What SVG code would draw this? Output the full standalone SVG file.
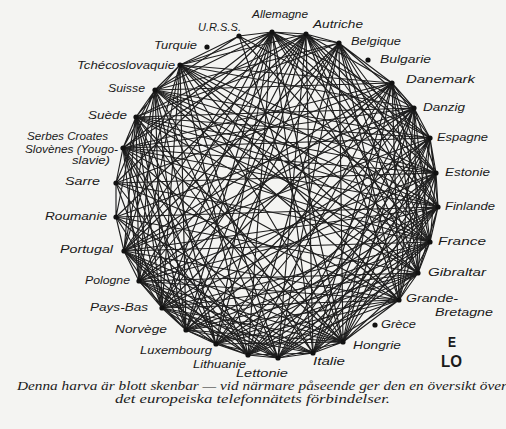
<svg xmlns="http://www.w3.org/2000/svg" width="506" height="429" viewBox="0 0 506 429">
<style>
.bg{fill:#f4f4f2}
.e{fill:none;stroke:#1e1e1e;stroke-width:1.15;stroke-linecap:round}
.d{fill:#111}
.l{font-family:"Liberation Sans",Arial,sans-serif;font-style:italic;font-size:10.5px;fill:#1a1a1a}
.c{font-family:"Liberation Serif","Times New Roman",serif;font-style:italic;font-size:11.5px;fill:#1a1a1a}
.m{font-family:"Liberation Sans",Arial,sans-serif;font-weight:bold;fill:#1a1a1a}
</style>
<rect class="bg" x="0" y="0" width="506" height="429"/>
<g id="connectors" class="e">
<path d="M272 32L306 34M272 32L339 43M272 32L414 108M272 32L430 138M272 32L438 207M272 32L430 242M272 32L418 273M272 32L343 342M272 32L313 353M272 32L248 355M272 32L216 344M272 32L162 308M272 32L139 281M272 32L124 251M272 32L116 183M272 32L123 148M272 32L155 90M272 32L180 65"/>
<path d="M306 34L339 43M306 34L392 83M306 34L430 138M306 34L436 173M306 34L430 242M306 34L418 273M306 34L399 300M306 34L313 353M306 34L278 358M306 34L216 344M306 34L186 330M306 34L139 281M306 34L124 251M306 34L116 217M306 34L123 148M306 34L136 117M306 34L180 65"/>
<path d="M339 43L392 83M339 43L414 108M339 43L436 173M339 43L438 207M339 43L418 273M339 43L399 300M339 43L343 342M339 43L278 358M339 43L248 355M339 43L186 330M339 43L162 308M339 43L124 251M339 43L136 117M339 43L155 90"/>
<path d="M392 83L414 108M392 83L430 138M392 83L438 207M392 83L430 242M392 83L399 300M392 83L343 342M392 83L313 353M392 83L248 355M392 83L216 344M392 83L162 308M392 83L139 281M392 83L116 183M392 83L123 148M392 83L155 90M392 83L180 65"/>
<path d="M414 108L430 138M414 108L436 173M414 108L430 242M414 108L418 273M414 108L343 342M414 108L313 353M414 108L278 358M414 108L216 344M414 108L186 330M414 108L139 281M414 108L124 251M414 108L116 217M414 108L123 148M414 108L136 117M414 108L180 65"/>
<path d="M430 138L436 173M430 138L438 207M430 138L418 273M430 138L399 300M430 138L313 353M430 138L278 358M430 138L248 355M430 138L186 330M430 138L162 308M430 138L124 251M430 138L123 148M430 138L136 117M430 138L155 90"/>
<path d="M436 173L438 207M436 173L430 242M436 173L399 300M436 173L343 342M436 173L278 358M436 173L248 355M436 173L216 344M436 173L162 308M436 173L139 281M436 173L116 183M436 173L136 117M436 173L155 90M436 173L180 65"/>
<path d="M438 207L430 242M438 207L418 273M438 207L343 342M438 207L313 353M438 207L248 355M438 207L216 344M438 207L186 330M438 207L139 281M438 207L124 251M438 207L116 217M438 207L123 148M438 207L155 90M438 207L180 65"/>
<path d="M430 242L418 273M430 242L399 300M430 242L313 353M430 242L278 358M430 242L216 344M430 242L186 330M430 242L162 308M430 242L124 251M430 242L116 183M430 242L123 148M430 242L136 117M430 242L180 65"/>
<path d="M418 273L399 300M418 273L343 342M418 273L278 358M418 273L248 355M418 273L186 330M418 273L162 308M418 273L139 281M418 273L116 217M418 273L136 117M418 273L155 90"/>
<path d="M399 300L343 342M399 300L313 353M399 300L248 355M399 300L216 344M399 300L162 308M399 300L139 281M399 300L124 251M399 300L116 183M399 300L123 148M399 300L155 90M399 300L180 65"/>
<path d="M343 342L313 353M343 342L278 358M343 342L216 344M343 342L186 330M343 342L139 281M343 342L124 251M343 342L116 217M343 342L123 148M343 342L136 117M343 342L180 65"/>
<path d="M313 353L278 358M313 353L248 355M313 353L186 330M313 353L162 308M313 353L124 251M313 353L136 117M313 353L155 90"/>
<path d="M278 358L248 355M278 358L216 344M278 358L162 308M278 358L139 281M278 358L116 217M278 358L123 148M278 358L155 90M278 358L180 65"/>
<path d="M248 355L216 344M248 355L186 330M248 355L139 281M248 355L124 251M248 355L116 183M248 355L123 148M248 355L136 117M248 355L180 65"/>
<path d="M216 344L186 330M216 344L162 308M216 344L124 251M216 344L123 148M216 344L136 117M216 344L155 90"/>
<path d="M186 330L162 308M186 330L139 281M186 330L116 217M186 330L136 117M186 330L155 90M186 330L180 65"/>
<path d="M162 308L139 281M162 308L124 251M162 308L116 183M162 308L123 148M162 308L155 90M162 308L180 65"/>
<path d="M139 281L124 251M139 281L123 148M139 281L136 117M139 281L180 65"/>
<path d="M124 251L116 217M124 251L136 117M124 251L155 90"/>
<path d="M116 217L116 183M116 217L136 117M116 183L123 148M116 183L155 90M123 148L136 117M123 148L155 90M136 117L155 90M136 117L180 65M155 90L180 65"/>
<path d="M272 32L436 173M272 32L186 330M306 34L438 207M306 34L162 308M339 43L430 242M339 43L139 281M392 83L418 273M392 83L124 251M414 108L399 300M430 138L343 342M436 173L313 353M436 173L123 148M438 207L278 358M438 207L136 117M430 242L248 355M430 242L155 90M418 273L216 344M418 273L180 65M399 300L186 330M343 342L162 308M313 353L139 281M278 358L124 251M186 330L123 148M162 308L136 117M139 281L155 90M124 251L180 65"/>
<path d="M239 36L272 32M239 36L180 65M239 36L155 90M239 36L430 242M239 36L343 342M239 36L430 138"/>
</g>
<g id="allemagne"><circle class="d" cx="272" cy="32" r="2.6"/><text class="l" x="252" y="18" textLength="56" lengthAdjust="spacingAndGlyphs">Allemagne</text></g>
<g id="autriche"><circle class="d" cx="306" cy="34" r="2.6"/><text class="l" x="313" y="28" textLength="50" lengthAdjust="spacingAndGlyphs">Autriche</text></g>
<g id="belgique"><circle class="d" cx="339" cy="43" r="2.6"/><text class="l" x="351" y="45" textLength="50" lengthAdjust="spacingAndGlyphs">Belgique</text></g>
<g id="bulgarie"><circle class="d" cx="368" cy="60" r="2.6"/><text class="l" x="380" y="63" textLength="51" lengthAdjust="spacingAndGlyphs">Bulgarie</text></g>
<g id="danemark"><circle class="d" cx="392" cy="83" r="2.6"/><text class="l" x="406" y="83" textLength="69" lengthAdjust="spacingAndGlyphs">Danemark</text></g>
<g id="danzig"><circle class="d" cx="414" cy="108" r="2.6"/><text class="l" x="423" y="111" textLength="42" lengthAdjust="spacingAndGlyphs">Danzig</text></g>
<g id="espagne"><circle class="d" cx="430" cy="138" r="2.6"/><text class="l" x="437" y="141" textLength="51" lengthAdjust="spacingAndGlyphs">Espagne</text></g>
<g id="estonie"><circle class="d" cx="436" cy="173" r="2.6"/><text class="l" x="445" y="176" textLength="45" lengthAdjust="spacingAndGlyphs">Estonie</text></g>
<g id="finlande"><circle class="d" cx="438" cy="207" r="2.6"/><text class="l" x="445" y="210" textLength="50" lengthAdjust="spacingAndGlyphs">Finlande</text></g>
<g id="france"><circle class="d" cx="430" cy="242" r="2.6"/><text class="l" x="438" y="245" textLength="48" lengthAdjust="spacingAndGlyphs">France</text></g>
<g id="gibraltar"><circle class="d" cx="418" cy="273" r="2.6"/><text class="l" x="428" y="276" textLength="58" lengthAdjust="spacingAndGlyphs">Gibraltar</text></g>
<g id="grande-bretagne"><circle class="d" cx="399" cy="300" r="2.6"/><text class="l" x="406" y="302" textLength="52" lengthAdjust="spacingAndGlyphs">Grande-</text><text class="l" x="435" y="316" textLength="58" lengthAdjust="spacingAndGlyphs">Bretagne</text></g>
<g id="grece"><circle class="d" cx="375" cy="325" r="2.6"/><text class="l" x="381" y="328" textLength="35" lengthAdjust="spacingAndGlyphs">Grèce</text></g>
<g id="hongrie"><circle class="d" cx="343" cy="342" r="2.6"/><text class="l" x="353" y="349" textLength="48" lengthAdjust="spacingAndGlyphs">Hongrie</text></g>
<g id="italie"><circle class="d" cx="313" cy="353" r="2.6"/><text class="l" x="313" y="365" textLength="32" lengthAdjust="spacingAndGlyphs">Italie</text></g>
<g id="lettonie"><circle class="d" cx="278" cy="358" r="2.6"/><text class="l" x="236" y="377" textLength="52" lengthAdjust="spacingAndGlyphs">Lettonie</text></g>
<g id="lithuanie"><circle class="d" cx="248" cy="355" r="2.6"/><text class="l" x="193" y="368" textLength="53" lengthAdjust="spacingAndGlyphs">Lithuanie</text></g>
<g id="luxembourg"><circle class="d" cx="216" cy="344" r="2.6"/><text class="l" x="140" y="354" textLength="72" lengthAdjust="spacingAndGlyphs">Luxembourg</text></g>
<g id="norvege"><circle class="d" cx="186" cy="330" r="2.6"/><text class="l" x="115" y="333" textLength="52" lengthAdjust="spacingAndGlyphs">Norvège</text></g>
<g id="pays-bas"><circle class="d" cx="162" cy="308" r="2.6"/><text class="l" x="90" y="311" textLength="58" lengthAdjust="spacingAndGlyphs">Pays-Bas</text></g>
<g id="pologne"><circle class="d" cx="139" cy="281" r="2.6"/><text class="l" x="85" y="284" textLength="45" lengthAdjust="spacingAndGlyphs">Pologne</text></g>
<g id="portugal"><circle class="d" cx="124" cy="251" r="2.6"/><text class="l" x="60" y="253" textLength="53" lengthAdjust="spacingAndGlyphs">Portugal</text></g>
<g id="roumanie"><circle class="d" cx="116" cy="217" r="2.6"/><text class="l" x="45" y="220" textLength="62" lengthAdjust="spacingAndGlyphs">Roumanie</text></g>
<g id="sarre"><circle class="d" cx="116" cy="183" r="2.6"/><text class="l" x="65" y="185" textLength="35" lengthAdjust="spacingAndGlyphs">Sarre</text></g>
<g id="yougoslavie"><circle class="d" cx="123" cy="148" r="2.6"/><text class="l" x="27" y="140" textLength="81" lengthAdjust="spacingAndGlyphs">Serbes Croates</text><text class="l" x="25" y="153" textLength="93" lengthAdjust="spacingAndGlyphs">Slovènes (Yougo-</text><text class="l" x="72" y="164" textLength="38" lengthAdjust="spacingAndGlyphs">slavie)</text></g>
<g id="suede"><circle class="d" cx="136" cy="117" r="2.6"/><text class="l" x="88" y="119" textLength="39" lengthAdjust="spacingAndGlyphs">Suède</text></g>
<g id="suisse"><circle class="d" cx="155" cy="90" r="2.6"/><text class="l" x="108" y="92" textLength="37" lengthAdjust="spacingAndGlyphs">Suisse</text></g>
<g id="tchecoslovaquie"><circle class="d" cx="180" cy="65" r="2.6"/><text class="l" x="77" y="69" textLength="98" lengthAdjust="spacingAndGlyphs">Tchécoslovaquie</text></g>
<g id="turquie"><circle class="d" cx="207" cy="47" r="2.6"/><text class="l" x="154" y="49" textLength="43" lengthAdjust="spacingAndGlyphs">Turquie</text></g>
<g id="urss"><circle class="d" cx="239" cy="36" r="2.6"/><text class="l" x="198" y="31" textLength="43" lengthAdjust="spacingAndGlyphs">U.R.S.S.</text></g>
<text class="m" x="448" y="347" font-size="15" textLength="8" lengthAdjust="spacingAndGlyphs">E</text>
<text class="m" x="441" y="367" font-size="17" textLength="21" lengthAdjust="spacingAndGlyphs">LO</text>
<text class="c" x="17" y="390" textLength="490" lengthAdjust="spacingAndGlyphs">Denna harva är blott skenbar — vid närmare påseende ger den en översikt över</text>
<text class="c" x="115" y="403" textLength="275" lengthAdjust="spacingAndGlyphs">det europeiska telefonnätets förbindelser.</text>
</svg>
